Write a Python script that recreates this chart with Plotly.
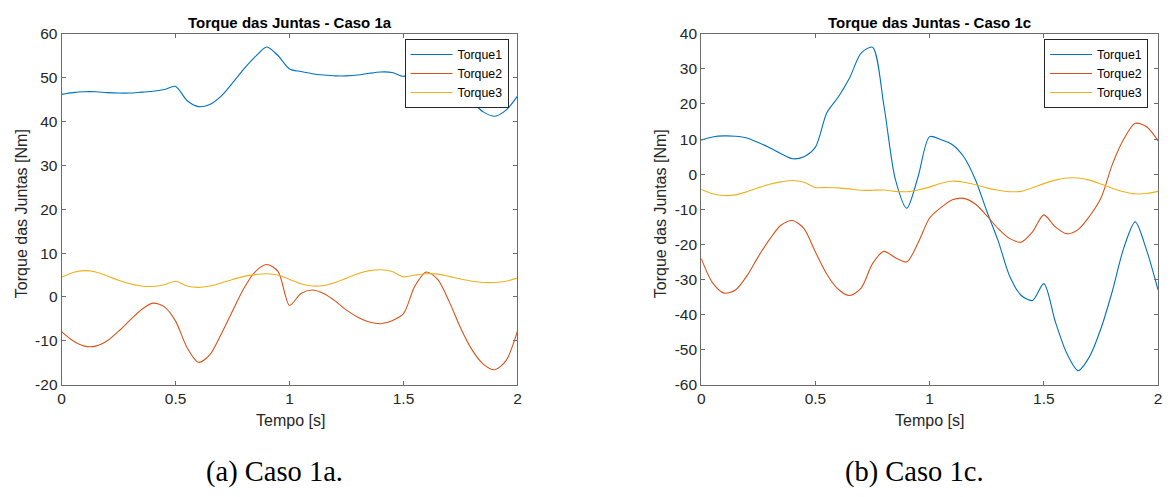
import plotly.graph_objects as go

# ---------------- data ----------------
tempo = [0.00, 0.05, 0.10, 0.15, 0.20, 0.25, 0.30, 0.35, 0.40, 0.45,
         0.50, 0.55, 0.60, 0.65, 0.70, 0.75, 0.80, 0.85, 0.90, 0.95,
         1.00, 1.05, 1.10, 1.15, 1.20, 1.25, 1.30, 1.35, 1.40, 1.45,
         1.50, 1.55, 1.60, 1.65, 1.70, 1.75, 1.80, 1.85, 1.90, 1.95, 2.00]

# Caso 1a
c1a_torque1 = [46.2, 46.6, 46.8, 46.8, 46.6, 46.5, 46.5, 46.7, 46.9, 47.3,
               48.0, 44.8, 43.4, 43.9, 45.8, 48.8, 52.0, 54.8, 57.0, 55.0,
               52.0, 51.4, 50.9, 50.6, 50.4, 50.4, 50.6, 51.0, 51.3, 51.2,
               50.3, 51.3, 51.0, 49.5, 47.8, 46.3, 44.5, 42.2, 41.2, 42.6, 45.8]
c1a_torque2 = [-7.9, -10.0, -11.2, -11.2, -10.0, -7.8, -5.3, -2.9, -1.4, -2.2,
               -5.5, -11.5, -14.9, -13.2, -8.5, -3.2, 2.0, 5.8, 7.4, 5.8,
               -1.9, 0.8, 1.6, 0.8, -0.9, -3.0, -4.6, -5.7, -6.1, -5.4,
               -3.8, 2.5, 5.7, 4.0, -1.0, -7.0, -12.0, -15.3, -16.6, -14.5, -7.8]
c1a_torque3 = [4.5, 5.6, 6.0, 5.7, 4.8, 3.8, 3.0, 2.5, 2.4, 2.8,
               3.6, 2.5, 2.2, 2.5, 3.2, 4.0, 4.7, 5.1, 5.3, 5.0,
               4.0, 3.0, 2.5, 2.6, 3.3, 4.3, 5.3, 6.0, 6.2, 5.8,
               4.6, 5.0, 5.3, 5.2, 4.7, 4.1, 3.6, 3.3, 3.3, 3.6, 4.3]

# Caso 1c
c1c_torque1 = [9.7, 10.6, 10.9, 10.8, 10.3, 9.0, 7.5, 5.8, 4.4, 5.0,
               7.7, 17.5, 22.0, 27.5, 34.5, 36.2, 19.5, -1.5, -9.7, -0.6,
               10.7, 9.8, 8.4, 4.9, -1.5, -10.5, -19.0, -29.0, -34.5, -36.0,
               -31.2, -42.0, -51.0, -56.0, -52.0, -44.0, -33.3, -21.0, -13.6, -21.7, -33.0]
c1c_torque2 = [-24.0, -31.0, -33.9, -33.0, -29.0, -23.5, -18.5, -14.5, -13.2, -15.5,
               -22.2, -28.5, -32.8, -34.6, -32.5, -25.5, -22.0, -23.8, -25.0, -19.5,
               -12.5, -9.5, -7.3, -6.9, -8.5, -11.8, -15.5, -18.3, -19.4, -16.5,
               -11.6, -15.0, -17.0, -15.8, -12.0, -6.8, 2.8, 10.0, 14.5, 13.5, 9.5]
c1c_torque3 = [-4.3, -5.6, -6.1, -5.9, -5.0, -3.9, -2.9, -2.2, -1.8, -2.3,
               -3.8, -3.8, -3.9, -4.2, -4.6, -4.6, -4.5, -4.9, -5.0, -4.5,
               -3.7, -2.6, -2.0, -2.3, -3.0, -3.9, -4.6, -5.0, -4.9, -3.9,
               -2.7, -1.7, -1.1, -1.1, -1.7, -2.8, -4.0, -5.0, -5.6, -5.5, -4.9]

series_names = ["Torque1", "Torque2", "Torque3"]
series_colors = ["#0072BD", "#D95319", "#EDB120"]

x_ticks = [0, 0.5, 1, 1.5, 2]
x_ticklabels = ["0", "0.5", "1", "1.5", "2"]
y_ticks_1a = [-20, -10, 0, 10, 20, 30, 40, 50, 60]
y_ticklabels_1a = ["-20", "-10", "0", "10", "20", "30", "40", "50", "60"]
y_ticks_1c = [-60, -50, -40, -30, -20, -10, 0, 10, 20, 30, 40]
y_ticklabels_1c = ["-60", "-50", "-40", "-30", "-20", "-10", "0", "10", "20", "30", "40"]

titles = ["Torque das Juntas - Caso 1a", "Torque das Juntas - Caso 1c"]
x_label = "Tempo [s]"
y_label = "Torque das Juntas [Nm]"
captions = ["(a) Caso 1a.", "(b) Caso 1c."]

# ---------------- layout helpers ----------------
W, H = 1170, 497


def px(x):
    return x / W


def py(y):
    return 1 - y / H


SANS = "Liberation Sans, Arial, sans-serif"
SERIF = "Liberation Serif, Times New Roman, serif"
AX_COLOR = "#6b6b6b"
TXT_COLOR = "#262626"

fig = go.Figure()

for vals, name, col in zip([c1a_torque1, c1a_torque2, c1a_torque3], series_names, series_colors):
    fig.add_trace(go.Scatter(x=tempo, y=vals, name=name, mode="lines",
                             line=dict(color=col, width=1.1, shape="spline", smoothing=0.8),
                             xaxis="x", yaxis="y", legend="legend"))
for vals, name, col in zip([c1c_torque1, c1c_torque2, c1c_torque3], series_names, series_colors):
    fig.add_trace(go.Scatter(x=tempo, y=vals, name=name, mode="lines",
                             line=dict(color=col, width=1.1, shape="spline", smoothing=0.8),
                             xaxis="x2", yaxis="y2", legend="legend2"))

ydom = [py(389), py(25.7)]
common_axis = dict(showgrid=False, zeroline=False, showline=True, linecolor=AX_COLOR,
                   linewidth=1, mirror="ticks", ticks="inside", ticklen=4, tickwidth=1,
                   tickcolor=AX_COLOR, tickfont=dict(family=SANS, size=15.5, color=TXT_COLOR))

legend_common = dict(bgcolor="white", bordercolor="#262626", borderwidth=1,
                     font=dict(family=SANS, size=12.3, color="black"),
                     xanchor="right", yanchor="top", tracegroupgap=0, itemwidth=42)

fig.update_layout(
    width=W, height=H,
    margin=dict(l=0, r=0, t=0, b=0),
    paper_bgcolor="white", plot_bgcolor="white",
    xaxis=dict(domain=[px(58), px(517)], range=[0, 2], tickvals=x_ticks,
               ticktext=x_ticklabels, anchor="y", **common_axis),
    yaxis=dict(domain=ydom, range=[-20, 60], tickvals=y_ticks_1a,
               ticktext=y_ticklabels_1a, anchor="x", **common_axis),
    xaxis2=dict(domain=[px(702), px(1162)], range=[0, 2], tickvals=x_ticks,
                ticktext=x_ticklabels, anchor="y2", **common_axis),
    yaxis2=dict(domain=ydom, range=[-60, 40], tickvals=y_ticks_1c,
                ticktext=y_ticklabels_1c, anchor="x2", **common_axis),
    legend=dict(x=px(508), y=py(31), **legend_common),
    legend2=dict(x=px(1152), y=py(31), **legend_common),
)

ann = []
for cx, title in zip([287.5, 932], titles):
    ann.append(dict(x=px(cx), y=py(14), xref="paper", yref="paper", text="<b>%s</b>" % title,
                    showarrow=False, xanchor="center", yanchor="middle",
                    font=dict(family=SANS, size=15, color="black")))
for cx in [288, 932]:
    ann.append(dict(x=px(cx), y=py(426), xref="paper", yref="paper", text=x_label,
                    showarrow=False, xanchor="center", yanchor="middle",
                    font=dict(family=SANS, size=16, color=TXT_COLOR)))
for cx in [17.5, 661]:
    ann.append(dict(x=px(cx), y=py(212), xref="paper", yref="paper", text=y_label,
                    textangle=-90, showarrow=False, xanchor="center", yanchor="middle",
                    font=dict(family=SANS, size=16, color=TXT_COLOR)))
for cx, cap in zip([272, 917], captions):
    ann.append(dict(x=px(cx), y=py(479), xref="paper", yref="paper", text=cap,
                    showarrow=False, xanchor="center", yanchor="middle",
                    font=dict(family=SERIF, size=28.5, color="black")))
fig.update_layout(annotations=ann)

fig.write_html("out.html")
